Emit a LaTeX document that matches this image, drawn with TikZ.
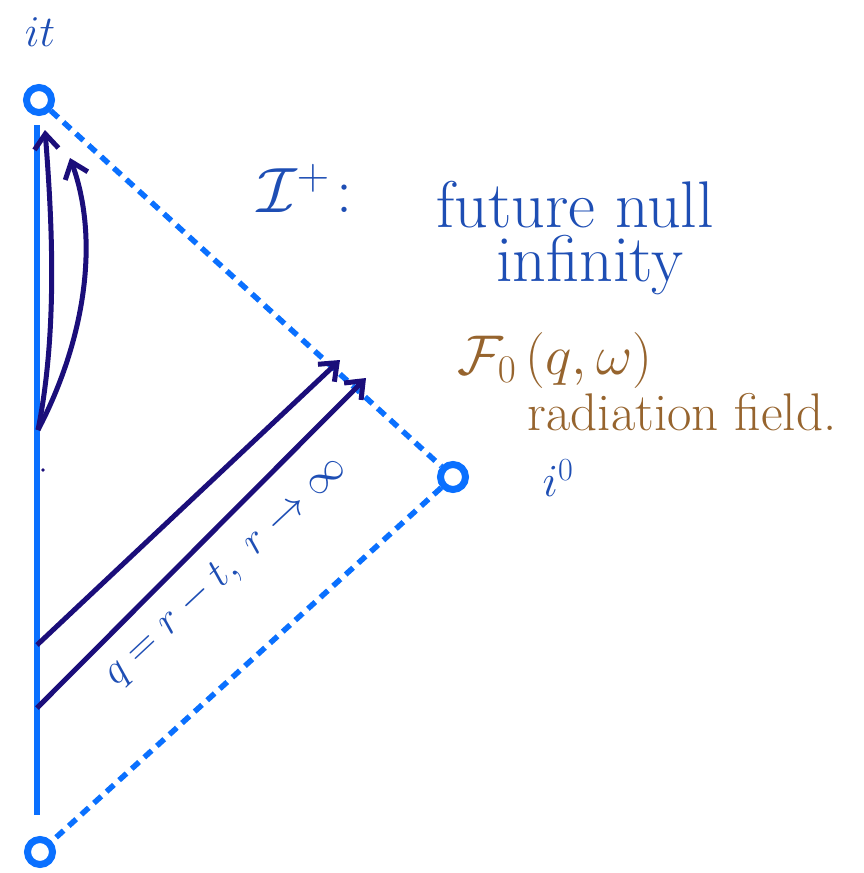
\RequirePackage{fix-cm}
\documentclass[tikz,border=0pt]{standalone}
\usetikzlibrary{arrows.meta}
\definecolor{lineblue}{RGB}{10,112,255}
\definecolor{textblue}{RGB}{30,78,180}
\definecolor{navy}{RGB}{27,14,122}
\definecolor{brown}{RGB}{150,100,46}
\tikzset{
  pt/.style={circle,draw=lineblue,line width=7pt,minimum size=25pt,inner sep=0pt},
  nullline/.style={draw=lineblue,line width=5.5pt,dash pattern=on 10pt off 7pt},
  axis/.style={draw=lineblue,line width=5.5pt},
  ray/.style={draw=navy,line width=5pt,-{Straight Barb[length=15pt,width=24pt,line width=5pt]}},
  hand/.style={text=textblue,inner sep=0pt},
  handbrown/.style={text=brown,inner sep=0pt}
}
\begin{document}
\begin{tikzpicture}[x=1pt,y=-1pt]
\useasboundingbox (0,0) rectangle (863,873);
% points
\node[pt] (top) at (39,100) {};
\node[pt] (bot) at (40,852) {};
\node[pt] (right) at (453,477) {};
% axis
\coordinate (axtop) at (37,125);
\coordinate (axbot) at (37,815);
\draw[axis] (axtop) -- (axbot);
% null boundaries
\draw[nullline] (top) -- (right);
\draw[nullline] (right) -- (bot);
% curved rays
\coordinate (c0) at (38,430);
\coordinate (c1) at (45,130);
\coordinate (c2) at (70,158);
\draw[ray] (c0) .. controls (58,330) and (52,220) .. (c1);
\draw[ray] (c0) .. controls (85,340) and (100,240) .. (c2);
% straight rays
\coordinate (s1) at (37,645);
\coordinate (e1) at (340,360);
\coordinate (s2) at (37,708);
\coordinate (e2) at (366,378);
\draw[ray] (s1) -- (e1);
\draw[ray] (s2) -- (e2);
\fill[navy] (43,470) circle (1.8pt);
% labels
\node[hand,font=\fontsize{44}{46}\selectfont] (it) at (40,32) {$it$};
\node[hand,font=\fontsize{64}{66}\selectfont] (scri) at (305,188) {$\mathcal{I}^{+}\!:$};
\node[hand,font=\fontsize{66}{68}\selectfont] (fut) at (575,205) {future null};
\node[hand,font=\fontsize{66}{68}\selectfont] (inf) at (590,265) {infinity};
\node[handbrown,font=\fontsize{56}{58}\selectfont] (F) at (555,360) {$\mathcal{F}_0\,(q,\omega)$};
\node[handbrown,font=\fontsize{53}{55}\selectfont] (rad) at (682,412) {radiation field.};
\node[hand,font=\fontsize{46}{48}\selectfont] (i0) at (558,478) {$i^0$};
\node[hand,font=\fontsize{42}{44}\selectfont,rotate=43] (q) at (226,572) {$q = r - t,\ r \to \infty$};
\end{tikzpicture}
\end{document}
